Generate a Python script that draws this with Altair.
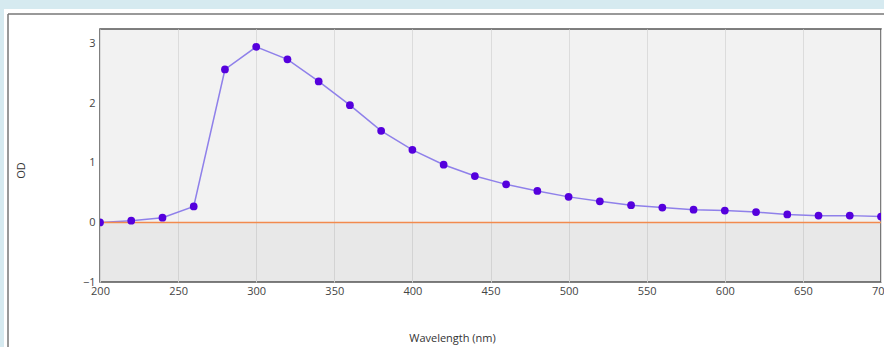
import altair as alt
import pandas as pd

wavelength = [200, 220, 240, 260, 280, 300, 320, 340, 360, 380, 400, 420, 440,
              460, 480, 500, 520, 540, 560, 580, 600, 620, 640, 660, 680, 700]
od = [0.00, 0.03, 0.08, 0.27, 2.57, 2.95, 2.74, 2.37, 1.97, 1.54, 1.22, 0.97, 0.78,
      0.64, 0.53, 0.43, 0.355, 0.29, 0.25, 0.215, 0.20, 0.175, 0.135, 0.115, 0.115, 0.10]

df = pd.DataFrame({"Wavelength": wavelength, "OD": od})
one = pd.DataFrame({"k": [0]})

W, H = 781, 253
x_scale = alt.Scale(domain=[200, 700], nice=False, zero=False)
y_scale = alt.Scale(domain=[-1, 3.25], nice=False, zero=False)

x_axis = alt.Axis(
    title="Wavelength (nm)", values=[200, 250, 300, 350, 400, 450, 500, 550, 600, 650, 700],
    format="d", ticks=False, domain=False, labelPadding=3, gridColor="#dcdcdc",
    labelColor="#444444", labelFont="Open Sans", labelFontSize=11,
    titleFont="Open Sans", titleFontSize=11, titleFontWeight="normal", titleColor="#333333",
    titleX=352, titleY=50, labelFlush=False,
)
y_axis = alt.Axis(
    title="OD", values=[-1, 0, 1, 2, 3], format="d", ticks=False, domain=False,
    labelPadding=5, gridColor="#dcdcdc", labelColor="#444444", labelFont="Open Sans",
    labelFontSize=11, titleFont="Open Sans", titleFontSize=11, titleFontWeight="normal",
    titleColor="#333333", titleX=-74, titleY=141, labelFlush=False,
)

base = alt.Chart(df)
deco = alt.Chart(one)

# decorative frame (outside the plot area)
top_strip = deco.mark_rect(color="#d6eaf0").encode(
    x=alt.value(-100), x2=alt.value(W + 3), y=alt.value(-29), y2=alt.value(-20))
left_strip = deco.mark_rect(color="#d6eaf0").encode(
    x=alt.value(-100), x2=alt.value(-96), y=alt.value(-29), y2=alt.value(H + 65))
frame_v = deco.mark_rule(color="#777777", strokeWidth=1.5).encode(
    x=alt.value(-92), y=alt.value(-15), y2=alt.value(H + 65))
frame_h = deco.mark_rule(color="#777777", strokeWidth=1.5).encode(
    x=alt.value(-92), x2=alt.value(W + 3), y=alt.value(-15))

neg_shade = deco.mark_rect(color="#000000", opacity=0.04).encode(
    x=alt.value(0), x2=alt.value(W),
    y=alt.datum(-1, scale=y_scale), y2=alt.datum(0))

zero_line = deco.mark_rule(color="#f28a4e", strokeWidth=1.5).encode(
    x=alt.value(0), x2=alt.value(W), y=alt.datum(0))

line = base.mark_line(color="#8f80ea", strokeWidth=1.5, clip=True).encode(
    x=alt.X("Wavelength:Q", scale=x_scale, axis=x_axis),
    y=alt.Y("OD:Q", scale=y_scale, axis=y_axis),
)
points = base.mark_circle(color="#5500dd", size=60, opacity=1, clip=True).encode(
    x=alt.X("Wavelength:Q", scale=x_scale),
    y=alt.Y("OD:Q", scale=y_scale),
)

chart = alt.layer(
    top_strip, left_strip, frame_v, frame_h, neg_shade, line, zero_line, points
).properties(
    width=W, height=H,
    autosize=alt.AutoSizeParams(type="none"),
    padding={"left": 100, "top": 29, "right": 3, "bottom": 65},
    background="#ffffff",
).configure_view(
    fill="#f2f2f2", stroke="#555555", strokeWidth=1.5
)

chart.save("out.html", embed_options={"renderer": "svg", "actions": False})
